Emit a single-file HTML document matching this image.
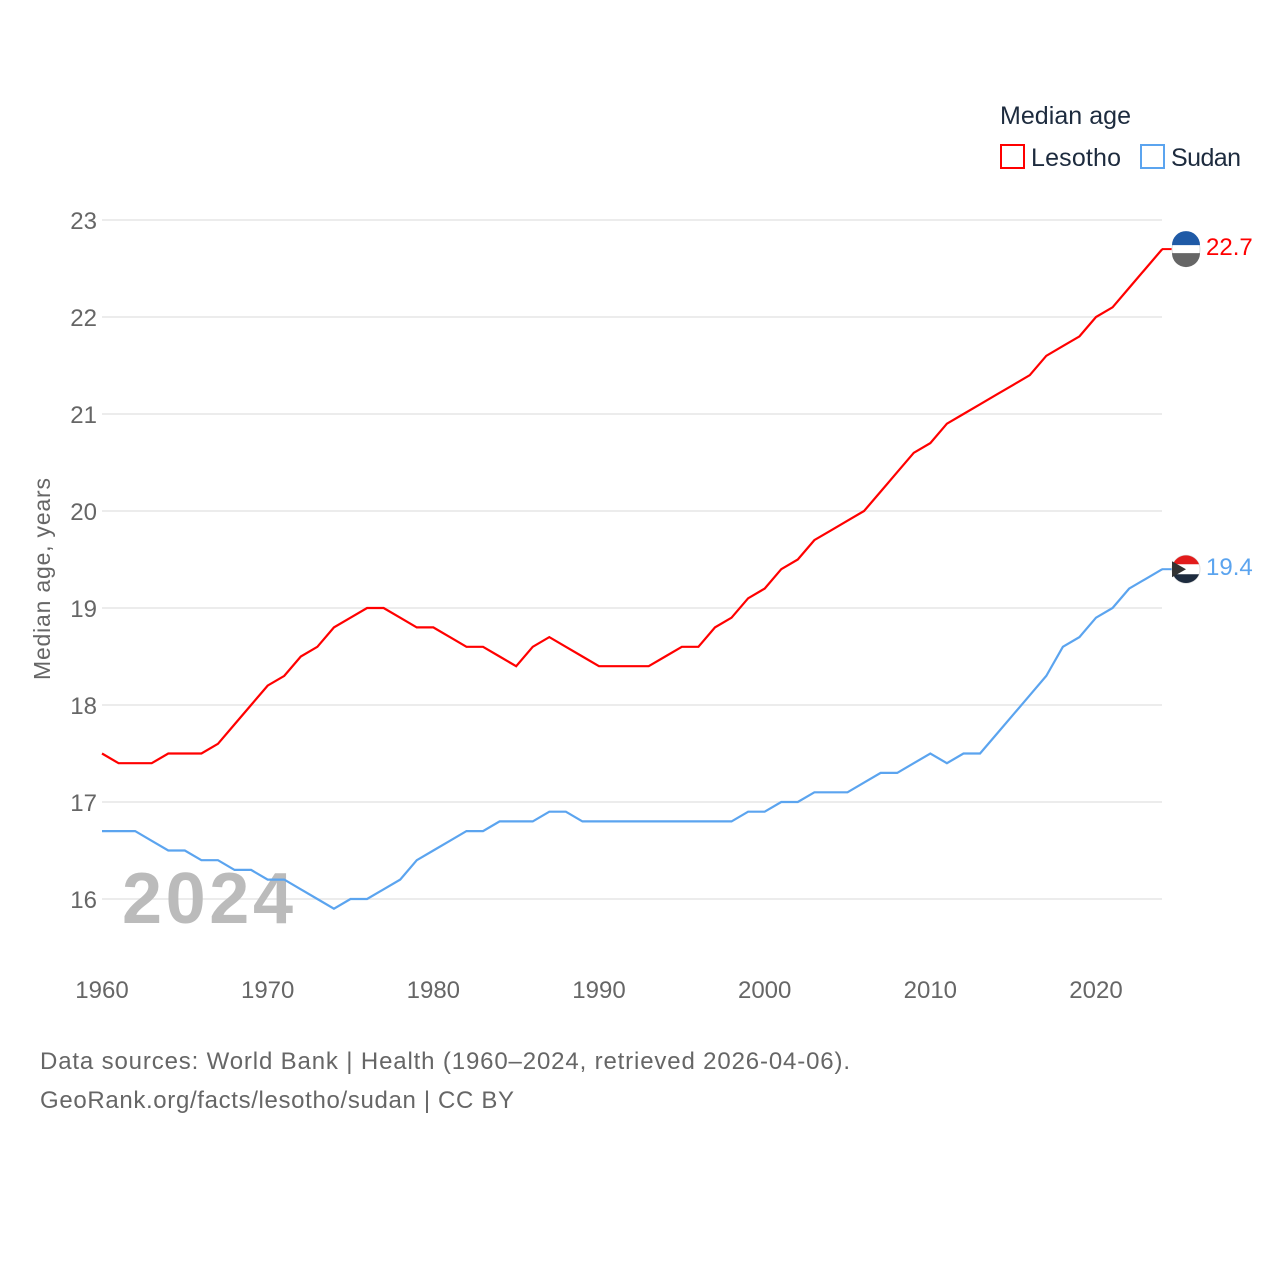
<!DOCTYPE html>
<html><head><meta charset="utf-8"><style>
body{margin:0;background:#fff;width:1280px;height:1280px;overflow:hidden;font-family:"Liberation Sans",sans-serif}
</style></head><body>
<svg id="chart" width="1280" height="1280" xmlns="http://www.w3.org/2000/svg" font-family="Liberation Sans, sans-serif">
<text x="1000" y="124" font-size="25" fill="#1d2b3e" textLength="131">Median age</text>
<g><rect x="1001" y="145" width="23" height="23" fill="none" stroke="#f00" stroke-width="2"/><text x="1031" y="166" font-size="25" fill="#1d2b3e" textLength="90">Lesotho</text></g>
<g><rect x="1141" y="145" width="23" height="23" fill="none" stroke="#5ba4ef" stroke-width="2"/><text x="1171" y="166" font-size="25" fill="#1d2b3e" textLength="70">Sudan</text></g>
<text transform="translate(50,579) rotate(-90)" text-anchor="middle" font-size="23" fill="#666" textLength="202">Median age, years</text>
<g id="grid"></g><g id="xt"></g>
<text x="122" y="923" font-size="72" font-weight="bold" fill="#bbb" textLength="171">2024</text>
<g id="lines"></g>
<text x="40" y="1069" font-size="24" fill="#666" textLength="810">Data sources: World Bank | Health (1960–2024, retrieved 2026-04-06).</text>
<text x="40" y="1108" font-size="24" fill="#666" textLength="474">GeoRank.org/facts/lesotho/sudan | CC BY</text>
</svg>
<script>
const years=[];for(let y=1960;y<=2024;y++)years.push(y);
const yTicks=[16,17,18,19,20,21,22,23];
const xTicks=[1960,1970,1980,1990,2000,2010,2020];
const lesotho=[17.5,17.4,17.4,17.4,17.5,17.5,17.5,17.6,17.8,18.0,18.2,18.3,18.5,18.6,18.8,18.9,19.0,19.0,18.9,18.8,18.8,18.7,18.6,18.6,18.5,18.4,18.6,18.7,18.6,18.5,18.4,18.4,18.4,18.4,18.5,18.6,18.6,18.8,18.9,19.1,19.2,19.4,19.5,19.7,19.8,19.9,20.0,20.2,20.4,20.6,20.7,20.9,21.0,21.1,21.2,21.3,21.4,21.6,21.7,21.8,22.0,22.1,22.3,22.5,22.7];
const sudan=[16.7,16.7,16.7,16.6,16.5,16.5,16.4,16.4,16.3,16.3,16.2,16.2,16.1,16.0,15.9,16.0,16.0,16.1,16.2,16.4,16.5,16.6,16.7,16.7,16.8,16.8,16.8,16.9,16.9,16.8,16.8,16.8,16.8,16.8,16.8,16.8,16.8,16.8,16.8,16.9,16.9,17.0,17.0,17.1,17.1,17.1,17.2,17.3,17.3,17.4,17.5,17.4,17.5,17.5,17.7,17.9,18.1,18.3,18.6,18.7,18.9,19.0,19.2,19.3,19.4];
const X=y=>102+(y-1960)*(994/60);
const Y=v=>899-(v-16)*97;
const NS="http://www.w3.org/2000/svg";
function mk(t,a,p){const e=document.createElementNS(NS,t);for(const k in a)e.setAttribute(k,a[k]);p.appendChild(e);return e;}
const g=document.getElementById('grid');
yTicks.forEach(v=>{
 const l=mk('line',{x1:102,x2:1162,y1:Y(v),y2:Y(v),stroke:'#e6e6e6','stroke-width':1.5},g);
 
 
 const t=mk('text',{x:97,y:Y(v)+9,'text-anchor':'end','font-size':24,fill:'#666'},g);t.textContent=v;
 
 
});
const xt=document.getElementById('xt');
xTicks.forEach(v=>{
 const t=mk('text',{x:X(v),y:998,'text-anchor':'middle','font-size':24,fill:'#666'},xt);t.textContent=v;
 
 
});
const L=document.getElementById('lines');
[[lesotho,'#f00','lesotho'],[sudan,'#5ba4ef','sudan']].forEach(([d,c,n])=>{
 const p=mk('polyline',{points:d.map((v,i)=>X(years[i])+','+Y(v)).join(' '),fill:'none',stroke:c,'stroke-width':2.2},L);
 
 
 const last=d[d.length-1],cy=Y(last);
 mk('line',{x1:1162,x2:1172,y1:cy,y2:cy,stroke:c,'stroke-width':2},L);
 const cc=mk('circle',{cx:1186,cy:cy,r:14,fill:'#fff',stroke:'#ddd'},L);
 
 
 if(n=='lesotho'){mk('path',{d:`M1172 ${cy-4} A14 14 0 0 1 1200 ${cy-4} Z`,fill:'#1f5aa6'},L);mk('path',{d:`M1172 ${cy+4} A14 14 0 0 0 1200 ${cy+4} Z`,fill:'#666'},L);}
 else{mk('path',{d:`M1173 ${cy-5} A14 14 0 0 1 1199 ${cy-5} Z`,fill:'#e21b1b'},L);mk('path',{d:`M1173 ${cy+5} A14 14 0 0 0 1199 ${cy+5} Z`,fill:'#1d2b3e'},L);mk('path',{d:`M1172 ${cy-8} L1186 ${cy} L1172 ${cy+8} Z`,fill:'#333'},L);}
 const t=mk('text',{x:1206,y:cy+6,'font-size':24,fill:c},L);t.textContent=last.toFixed(1);
 
 
});
</script>
</body></html>
